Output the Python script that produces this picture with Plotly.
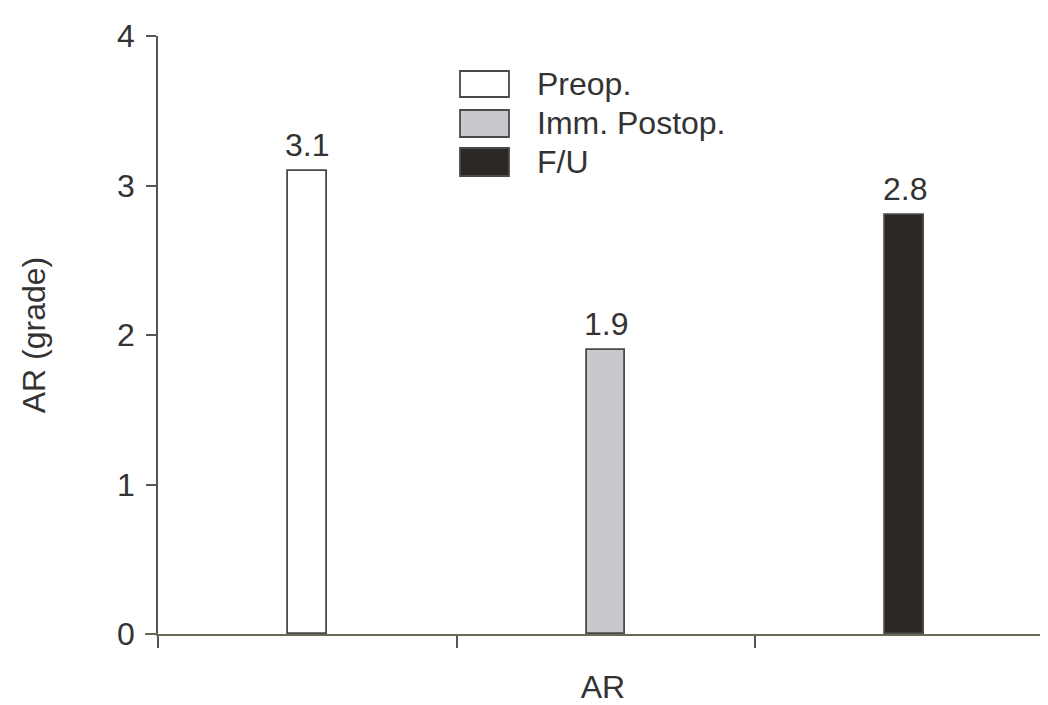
import plotly.graph_objects as go

# ---- data ----
categories = ["Preop.", "Imm. Postop.", "F/U"]
values = [3.1, 1.9, 2.8]
value_labels = ["3.1", "1.9", "2.8"]
y_ticks = [0, 1, 2, 3, 4]

# ---- styles ----
fills = ["#ffffff", "#c9c9cd", "#2b2724"]
outline = "#4a4a4a"
text_color = "#333333"
font_family = "Liberation Sans, Arial, sans-serif"
FS = 32

OFF = 8  # page body margin
W, H = 1048 - OFF, 705 - OFF
ml, mr, mt, mb = 158 - OFF, 0, 36 - OFF, 71
pw, ph = W - ml - mr, H - mt - mb

def px2paper_x(px):
    return (px - OFF - ml) / pw

def px2paper_y(py):
    return (H - mb - (py - OFF)) / ph

fig = go.Figure()
for i, (name, v) in enumerate(zip(categories, values)):
    fig.add_trace(go.Bar(
        x=[i], y=[v], name=name, width=0.13,
        marker=dict(color=fills[i], line=dict(color=outline, width=1.8)),
        showlegend=False,
    ))
    fig.add_annotation(x=i, y=v, text=value_labels[i], showarrow=False,
                       xref="x", yref="y", yanchor="bottom", yshift=6,
                       font=dict(size=FS, color=text_color, family=font_family))

# manual legend (large boxes as in the reference)
leg_boxes = [(71, 97), (110, 137), (148, 176)]
for i, name in enumerate(categories):
    y0, y1 = leg_boxes[i]
    fig.add_shape(type="rect", xref="paper", yref="paper",
                  x0=px2paper_x(460), x1=px2paper_x(509),
                  y0=px2paper_y(y1), y1=px2paper_y(y0),
                  fillcolor=fills[i], line=dict(color=outline, width=1.8))
    fig.add_annotation(x=px2paper_x(535), y=px2paper_y((y0 + y1) / 2),
                       xref="paper", yref="paper", text=name, showarrow=False,
                       xanchor="left", yanchor="middle",
                       font=dict(size=FS, color=text_color, family=font_family))

# x-axis baseline extends slightly left of the y-axis, as in the reference
fig.add_shape(type="line", xref="paper", yref="paper",
              x0=px2paper_x(145), x1=px2paper_x(158), y0=0, y1=0,
              line=dict(color="#6a6a55", width=1.8))

fig.update_layout(
    width=W, height=H,
    margin=dict(l=ml, r=mr, t=mt, b=mb, autoexpand=False),
    paper_bgcolor="#ffffff", plot_bgcolor="#ffffff",
    font=dict(family=font_family, size=FS, color=text_color),
    bargap=0,
)
fig.update_xaxes(
    range=[-0.5, 2.48], tickvals=[-0.5, 0.5, 1.5], ticktext=["", "", ""],
    ticks="outside", ticklen=12, tickwidth=1.5, tickcolor="#555555",
    showline=True, linecolor="#6a6a55", linewidth=1.8,
    showgrid=False, zeroline=False,
    title=dict(text="AR", standoff=22, font=dict(size=FS, color=text_color)),
)
fig.update_yaxes(
    range=[0, 4], tickvals=y_ticks,
    ticks="outside", ticklen=10, tickwidth=1.5, tickcolor="#555555",
    ticklabelstandoff=5,
    showline=True, linecolor="#555555", linewidth=1.8,
    showgrid=False, zeroline=False,
    tickfont=dict(size=FS, color=text_color),
    title=dict(text="AR (grade)", standoff=62, font=dict(size=FS, color=text_color)),
)

fig.write_html("out.html")
